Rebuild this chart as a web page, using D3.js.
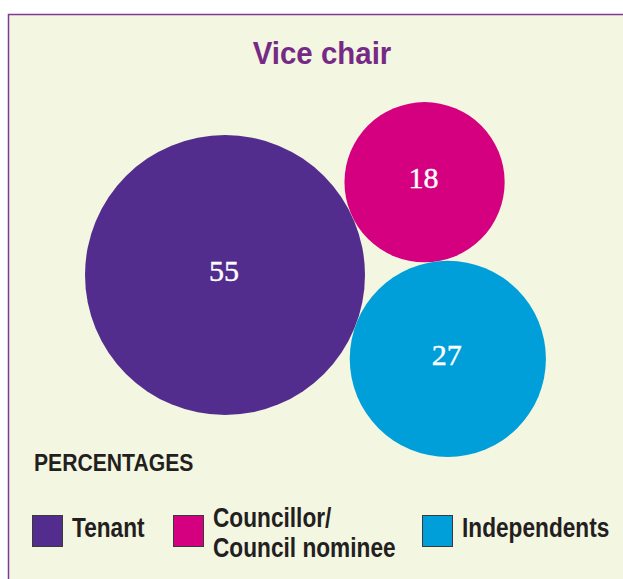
<!DOCTYPE html>
<html>
<head>
<meta charset="utf-8">
<script src="https://cdn.jsdelivr.net/npm/d3@7"></script>
<style>
  html, body { margin: 0; padding: 0; background: #fff; }
  svg { display: block; }
</style>
</head>
<body>
<svg width="623" height="579"></svg>
<script>
var categories = ["Tenant", "Councillor/ Council nominee", "Independents"];
var values = [55, 18, 27];
var legendLines = [["Tenant"], ["Councillor/", "Council nominee"], ["Independents"]];
var colors = ["#532d8e", "#d5007f", "#009fda"];

var svg = d3.select("svg");
var sans = "'Liberation Sans', Arial, sans-serif";

// squeeze text horizontally around its x to look condensed
function squeeze(x, k) {
  return "translate(" + x + ",0) scale(" + k + ",1) translate(" + (-x) + ",0)";
}

// panel
svg.append("rect")
  .attr("x", 8.5).attr("y", 14.5)
  .attr("width", 640).attr("height", 600)
  .attr("fill", "#f3f6e0")
  .attr("stroke", "#7d3b96")
  .attr("stroke-width", 1.5);

svg.append("text")
  .attr("x", 322).attr("y", 64)
  .attr("text-anchor", "middle")
  .attr("font-family", sans)
  .attr("font-weight", "bold")
  .attr("font-size", 31)
  .attr("fill", "#762a86")
  .attr("transform", squeeze(322, 0.95))
  .text("Vice chair");

// radius scale, area proportional to value
var r = d3.scaleSqrt().domain([0, 55]).range([0, 140]);

// lay the circles out tangent to each other
var r0 = r(values[0]), r1 = r(values[1]), r2 = r(values[2]);
var c0 = [225, 275];
var theta = Math.atan2(-93, 200);
var d0 = r0 + r1, d1 = r0 + r2, d2 = r1 + r2;
var alpha = Math.acos((d0 * d0 + d1 * d1 - d2 * d2) / (2 * d0 * d1));
var centers = [
  c0,
  [c0[0] + d0 * Math.cos(theta), c0[1] + d0 * Math.sin(theta)],
  [c0[0] + d1 * Math.cos(theta + alpha), c0[1] + d1 * Math.sin(theta + alpha)]
];

var nodes = values.map(function(v, i) {
  return { value: v, x: centers[i][0], y: centers[i][1], r: r(v), color: colors[i] };
});

var g = svg.selectAll("g.bubble").data(nodes).enter().append("g").attr("class", "bubble");
g.append("circle")
  .attr("cx", function(d) { return d.x; })
  .attr("cy", function(d) { return d.y; })
  .attr("r", function(d) { return d.r; })
  .attr("fill", function(d) { return d.color; });
g.append("text")
  .attr("x", function(d) { return d.x - 1; })
  .attr("y", function(d) { return d.y + 6; })
  .attr("text-anchor", "middle")
  .attr("font-family", "'Liberation Serif', 'DejaVu Serif', serif")
  .attr("font-size", 30)
  .attr("fill", "#fff")
  .attr("stroke", "#fff")
  .attr("stroke-width", 0.4)
  .text(function(d) { return d.value; });

// legend
svg.append("text")
  .attr("x", 34).attr("y", 471)
  .attr("font-family", sans)
  .attr("font-weight", "bold")
  .attr("font-size", 23.5)
  .attr("fill", "#231f20")
  .attr("transform", squeeze(34, 0.9))
  .text("PERCENTAGES");

var legendX = [32, 173, 422];
var lg = svg.selectAll("g.legend").data(categories).enter().append("g")
  .attr("class", "legend")
  .attr("transform", function(d, i) { return "translate(" + legendX[i] + ",515)"; });
lg.append("rect")
  .attr("x", 0.5).attr("y", 0.5)
  .attr("width", 30).attr("height", 31)
  .attr("fill", function(d, i) { return colors[i]; })
  .attr("stroke", "#3a3a3a")
  .attr("stroke-width", 1);
lg.each(function(d, i) {
  var lines = legendLines[i];
  var t = d3.select(this).append("text")
    .attr("font-family", sans)
    .attr("font-weight", "bold")
    .attr("font-size", 27)
    .attr("fill", "#231f20")
    .attr("transform", squeeze(40, 0.84));
  lines.forEach(function(line, j) {
    t.append("tspan")
      .attr("x", 40)
      .attr("y", lines.length === 1 ? 22 : 12 + j * 30)
      .text(line);
  });
});
</script>
</body>
</html>
